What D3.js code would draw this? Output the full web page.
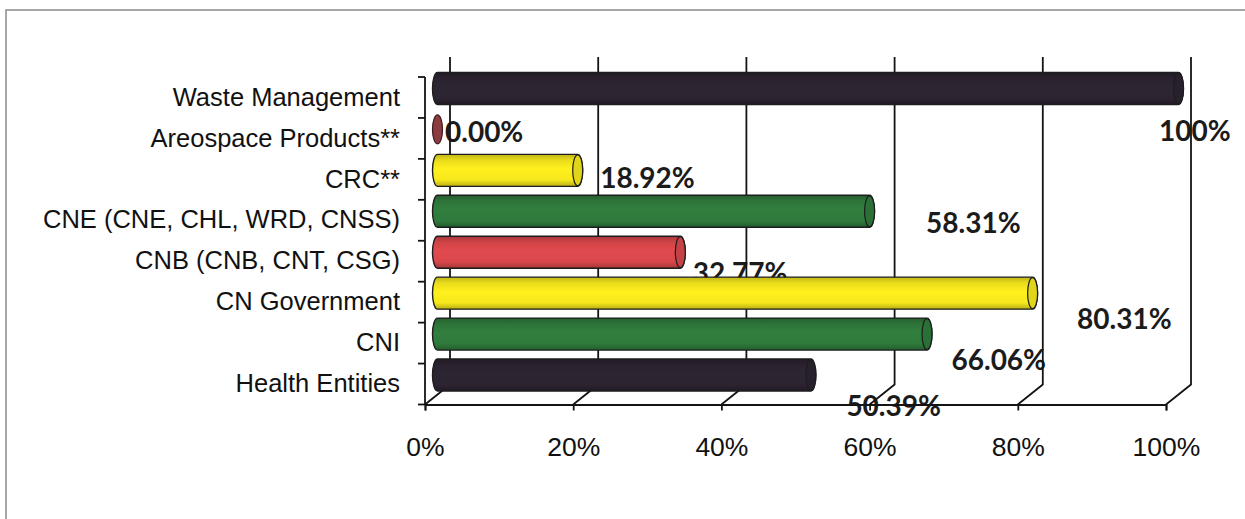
<!DOCTYPE html>
<html>
<head>
<meta charset="utf-8">
<script src="https://cdn.jsdelivr.net/npm/d3@7"></script>
<style>
  html, body { margin: 0; padding: 0; background: #fff; }
  svg { display: block; }
</style>
</head>
<body>
<svg id="chart" width="1245" height="519"></svg>
<script>
// Share of entities per group (percent)
const categories = [
  "Waste Management",
  "Areospace Products**",
  "CRC**",
  "CNE (CNE, CHL, WRD, CNSS)",
  "CNB (CNB, CNT, CSG)",
  "CN Government",
  "CNI",
  "Health Entities"
];
const values = [100, 0, 18.92, 58.31, 32.77, 80.31, 66.06, 50.39];
const valueLabels = ["100%", "0.00%", "18.92%", "58.31%", "32.77%", "80.31%", "66.06%", "50.39%"];
const barColors = ["#2c2431", "#8c3b3e", "#f6e81c", "#2f7a3c", "#d9474b", "#f6e81c", "#2f7a3c", "#2c2431"];
const tickValues = [0, 20, 40, 60, 80, 100];

// Hand-placed data label nudges (px) relative to the bar end on the front plane
const labelNudges = [[-7, 44], [20, 4], [35, 9], [69, 13], [25, 22], [57, 27], [37, 27], [48, 32]];

const svg = d3.select("#chart");

// 3D layout: front plane and a back wall shifted by depth
const depth = { dx: 25, dy: -20 };
const xFront = d3.scaleLinear().domain([0, 100]).range([425, 1166]);
const xBack = v => xFront(v) + depth.dx;
const xMid = v => xFront(v) + depth.dx / 2;
const y = d3.scaleBand().domain(categories).range([77, 404.5]);
const barHalf = 16;
const capRx = 5;
const barShift = -9;

// Outer frame (left and top edges)
svg.append("path")
  .attr("d", "M6,519 L6,10 L1245,10")
  .attr("fill", "none")
  .attr("stroke", "#8a8a8a")
  .attr("stroke-width", 1.5);

// Data labels (drawn under the grid, like the chart shows)
const labelG = svg.append("g")
  .attr("font-family", "Lato, 'Open Sans', sans-serif")
  .attr("font-weight", 700)
  .attr("font-size", 28)
  .attr("fill", "#1b1b1b");
labelG.selectAll("text")
  .data(categories)
  .join("text")
  .attr("x", (c, i) => xFront(values[i]) + labelNudges[i][0])
  .attr("y", (c, i) => y(c) + y.bandwidth() / 2 + labelNudges[i][1])
  .text((c, i) => valueLabels[i]);

// Gridlines on the back wall plus the floor diagonals
const gridG = svg.append("g")
  .attr("fill", "none")
  .attr("stroke", "#141414")
  .attr("stroke-width", 1.8);
const floorY = y.range()[1];
const backTop = y.range()[0] + depth.dy;
gridG.selectAll("path")
  .data(tickValues)
  .join("path")
  .attr("d", t => `M${xBack(t)},${backTop} L${xBack(t)},${floorY + depth.dy} L${xFront(t)},${floorY}`);

// Left (category) axis line with ticks at the band boundaries
gridG.append("line")
  .attr("x1", xFront(0)).attr("x2", xFront(0))
  .attr("y1", y.range()[0]).attr("y2", floorY);
const bounds = categories.map(c => y(c)).concat([floorY]);
gridG.selectAll("line.btick")
  .data(bounds)
  .join("line")
  .attr("class", "btick")
  .attr("x1", xFront(0) - 7).attr("x2", xFront(0))
  .attr("y1", d => d).attr("y2", d => d);

// Bottom value axis
const xAxis = d3.axisBottom(xFront)
  .tickValues(tickValues)
  .tickFormat(d => d + "%")
  .tickSize(6)
  .tickPadding(27);
const axG = svg.append("g")
  .attr("transform", `translate(0,${floorY})`)
  .call(xAxis);
axG.select(".domain").attr("stroke", "#141414").attr("stroke-width", 1.8);
axG.selectAll(".tick line").attr("stroke", "#141414").attr("stroke-width", 1.8);
axG.selectAll(".tick text")
  .attr("font-family", "'Liberation Sans', Arial, sans-serif")
  .attr("font-size", 26.5)
  .attr("fill", "#111");

// Category labels
const yAxis = d3.axisLeft(y).tickSize(0).tickPadding(25);
const cyG = svg.append("g")
  .attr("transform", `translate(${xFront(0)},0)`)
  .call(yAxis);
cyG.select(".domain").remove();
cyG.selectAll(".tick text")
  .attr("font-family", "'Liberation Sans', Arial, sans-serif")
  .attr("font-size", 25.5)
  .attr("fill", "#111");

// Cylinder shading gradients
const defs = svg.append("defs");
barColors.forEach((col, i) => {
  const base = d3.color(col);
  const g = defs.append("linearGradient")
    .attr("id", "cyl" + i)
    .attr("x1", 0).attr("y1", 0).attr("x2", 0).attr("y2", 1);
  g.append("stop").attr("offset", "0%").attr("stop-color", base.darker(0.7));
  g.append("stop").attr("offset", "18%").attr("stop-color", base.darker(0.15));
  g.append("stop").attr("offset", "45%").attr("stop-color", base.brighter(0.1));
  g.append("stop").attr("offset", "80%").attr("stop-color", base);
  g.append("stop").attr("offset", "100%").attr("stop-color", base.darker(0.8));
});

// Cylinder bars
const barG = svg.append("g");
categories.forEach((c, i) => {
  const cy = y(c) + y.bandwidth() / 2 + barShift;
  const x0 = xMid(0);
  const x1 = xMid(values[i]);
  const g = barG.append("g");
  if (x1 - x0 > 0.5) {
    g.append("path")
      .attr("d", `M${x0},${cy - barHalf} L${x1},${cy - barHalf} A${capRx},${barHalf} 0 0 1 ${x1},${cy + barHalf} L${x0},${cy + barHalf} A${capRx},${barHalf} 0 0 1 ${x0},${cy - barHalf} Z`)
      .attr("fill", `url(#cyl${i})`)
      .attr("stroke", "#1d1d1d")
      .attr("stroke-width", 1.4);
    g.append("ellipse")
      .attr("cx", x1).attr("cy", cy)
      .attr("rx", capRx).attr("ry", barHalf - 0.5)
      .attr("fill", d3.color(barColors[i]).darker(0.25))
      .attr("stroke", "#1d1d1d")
      .attr("stroke-width", 1.2);
  } else {
    g.append("ellipse")
      .attr("cx", x0).attr("cy", cy)
      .attr("rx", capRx).attr("ry", barHalf - 1.5)
      .attr("fill", barColors[i])
      .attr("stroke", "#3a1d1d")
      .attr("stroke-width", 1.2);
  }
});
</script>
</body>
</html>
